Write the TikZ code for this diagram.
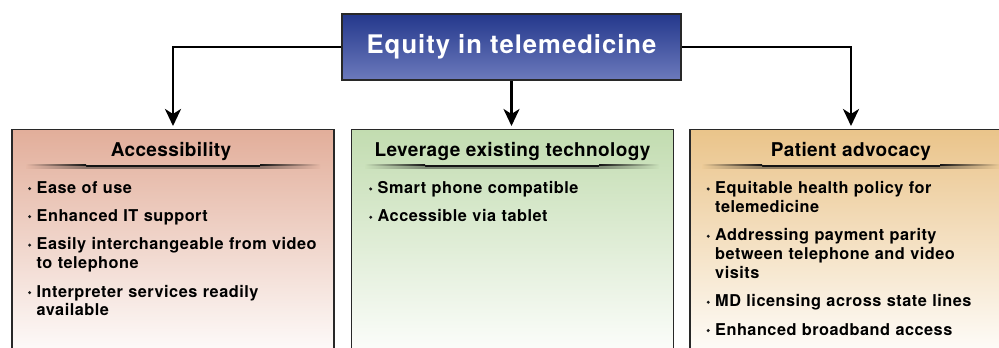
\documentclass[tikz,border=0pt]{standalone}
\usepackage{fontspec}
\setmainfont{TeX Gyre Heros}
\newfontfamily\titlefont[LetterSpace=4]{TeX Gyre Heros}
\newfontfamily\headfont[LetterSpace=2]{TeX Gyre Heros}
\newfontfamily\itemfont[LetterSpace=3]{TeX Gyre Heros}
\usetikzlibrary{arrows.meta}

\definecolor{titleTop}{RGB}{36,56,140}
\definecolor{titleBot}{RGB}{108,122,188}
\definecolor{accTop}{RGB}{226,174,154}
\definecolor{levTop}{RGB}{194,220,176}
\definecolor{patTop}{RGB}{234,196,138}
\definecolor{boxline}{RGB}{40,40,40}
\definecolor{sepdark}{RGB}{20,20,20}

% fading rule under a column heading: from x0 to x1, faded into colour bg
\newcommand{\headrule}[3]{%
  \shade[left color=#3, right color=sepdark] (#1,164.8) rectangle ({#1+60},166.8);
  \fill[sepdark] ({#1+60},164.8) rectangle ({#2-60},166.8);
  \shade[left color=sepdark, right color=#3] ({#2-60},164.8) rectangle (#2,166.8);
  \shade[left color=#3, right color=black!45!#3] (#1,166.8) rectangle ({#1+60},168.6);
  \fill[black!45!#3] ({#1+60},166.8) rectangle ({#2-60},168.6);
  \shade[left color=black!45!#3, right color=#3] ({#2-60},166.8) rectangle (#2,168.6);
}

% one bullet item: name, first-line baseline position, text
\newcommand{\bulletitem}[3]{%
  \node[itemtext, anchor=base west] (#1) at (#2) {#3};
  \node[itemdot] (#1-dot) at ([xshift=-6.8pt, yshift=4.4pt]#1.base west) {};
}

\begin{document}
\begin{tikzpicture}[x=1pt, y=-1pt,
  titlebox/.style={draw=boxline, line width=1.1pt, top color=titleTop, bottom color=titleBot,
    minimum width=339pt, minimum height=66pt, inner sep=0pt,
    text=white, font=\titlefont\bfseries\fontsize{25.6}{30}\selectfont},
  column/.style={draw=boxline, line width=1.1pt, bottom color=white,
    minimum width=322pt, minimum height=235pt, inner sep=0pt, anchor=north},
  heading/.style={anchor=base, inner sep=0pt, font=\headfont\bfseries\fontsize{19}{22}\selectfont},
  itemtext/.style={inner sep=0pt, text width=290pt, align=left,
    font=\itemfont\bfseries\fontsize{16.3}{18.8}\selectfont},
  itemdot/.style={circle, fill=black!90, inner sep=0pt, minimum size=3.3pt},
  conn/.style={line width=2.8pt, -{Stealth[length=17pt, width=16pt, inset=5pt]}, shorten >=3pt}
]
\useasboundingbox (0,0) rectangle (999,348);
\clip (0,0) rectangle (999,348);

% column boxes
\node[column, top color=accTop] (acc) at (173,129) {};
\node[column, top color=levTop] (lev) at (512.5,129) {};
\node[column, top color=patTop] (pat) at (851,129) {};

% title box
\node[titlebox] (top) at (511.5,47) {Equity in telemedicine};

% connectors
\draw[conn] (top.west) -| (acc.north);
\draw[conn] (top.south) -- (top.south |- lev.north);
\draw[conn] (top.east) -| (pat.north);

% headings
\node[heading] (acch) at (171,156.5) {Accessibility};
\node[heading] (levh) at (512.5,156.5) {Leverage existing technology};
\node[heading] (path) at (851,156.5) {Patient advocacy};

\headrule{26}{320}{accTop!88!white}
\headrule{365}{659}{levTop!88!white}
\headrule{702}{1000}{patTop!88!white}

% Accessibility items
\bulletitem{a1}{36.5,193}{Ease of use}
\bulletitem{a2}{36.5,221}{Enhanced IT support}
\bulletitem{a3}{36.5,249.5}{Easily interchangeable from video\\to telephone}
\bulletitem{a4}{36.5,297}{Interpreter services readily\\available}

% Leverage existing technology items
\bulletitem{l1}{377.5,193.3}{Smart phone compatible}
\bulletitem{l2}{377.5,221.7}{Accessible via tablet}

% Patient advocacy items
\bulletitem{p1}{715,193.3}{Equitable health policy for\\telemedicine}
\bulletitem{p2}{715,240.7}{Addressing payment parity\\between telephone and video\\visits}
\bulletitem{p3}{715,306.7}{MD licensing across state lines}
\bulletitem{p4}{715,335}{Enhanced broadband access}
\end{tikzpicture}
\end{document}
